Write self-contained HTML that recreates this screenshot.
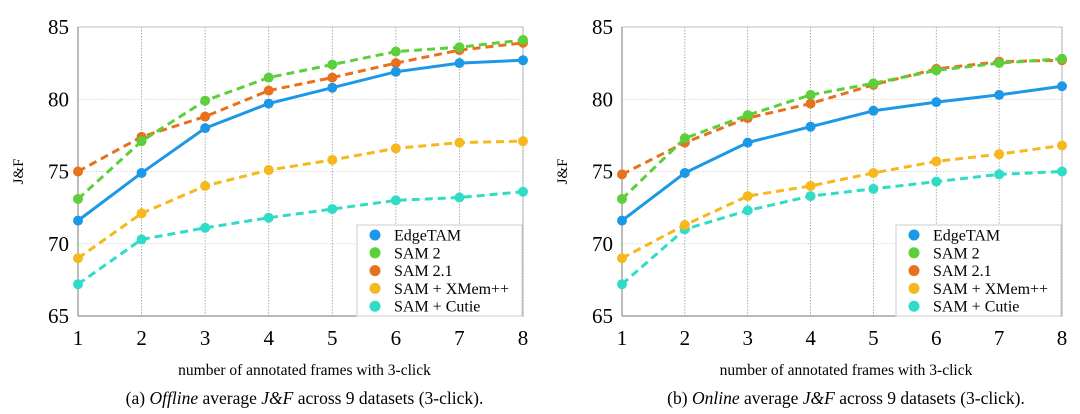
<!DOCTYPE html>
<html><head><meta charset="utf-8"><style>
html,body{margin:0;padding:0;background:#fff;}
svg{display:block;font-family:"Liberation Serif",serif;}
</style></head><body>
<svg id="svg" width="1080" height="414" viewBox="0 0 1080 414"></svg>
<script>
const xCats=[1,2,3,4,5,6,7,8];
const yTicks=[65,70,75,80,85];
const seriesNames=["EdgeTAM","SAM 2","SAM 2.1","SAM + XMem++","SAM + Cutie"];
const seriesColors=["#1d98e6","#5ccf3a","#e8711e","#f6b81c","#30dcc6"];
const offEdge=[71.6,74.9,78.0,79.7,80.8,81.9,82.5,82.7];
const offSam2=[73.1,77.1,79.9,81.5,82.4,83.3,83.6,84.1];
const offSam21=[75.0,77.4,78.8,80.6,81.5,82.5,83.4,83.9];
const offXmem=[69.0,72.1,74.0,75.1,75.8,76.6,77.0,77.1];
const offCutie=[67.2,70.3,71.1,71.8,72.4,73.0,73.2,73.6];
const onEdge=[71.6,74.9,77.0,78.1,79.2,79.8,80.3,80.9];
const onSam2=[73.1,77.3,78.9,80.3,81.1,82.0,82.5,82.8];
const onSam21=[74.8,77.0,78.7,79.7,81.0,82.1,82.6,82.7];
const onXmem=[69.0,71.3,73.3,74.0,74.9,75.7,76.2,76.8];
const onCutie=[67.2,71.0,72.3,73.3,73.8,74.3,74.8,75.0];

const NS="http://www.w3.org/2000/svg";
const svg=document.getElementById('svg');
function mk(tag,attrs,parent,text){const e=document.createElementNS(NS,tag);for(const k in attrs)e.setAttribute(k,attrs[k]);if(text!==undefined)e.textContent=text;(parent||svg).appendChild(e);return e;}

function chart(cfg){
  const g=mk('g',{});
  
  
  const L=cfg.x0,R=cfg.x1,T=27,B=316;
  const sx=v=>L+(v-1)*(R-L)/7;
  const sy=v=>B-(v-65)*(B-T)/20;
  const fr=mk('rect',{x:L,y:T,width:R-L,height:B-T,fill:'none',stroke:'#bbb','stroke-width':1},g);
  
  
  xCats.forEach(c=>{
    const l=mk('line',{x1:sx(c),x2:sx(c),y1:T,y2:B,stroke:'#999','stroke-dasharray':'1.5,1.5','stroke-width':0.8},g);
    
    
    const t=mk('text',{x:sx(c),y:345,'text-anchor':'middle','font-size':21},g,String(c));
    
    
  });
  yTicks.forEach(v=>{
    const l=mk('line',{x1:L,x2:R,y1:sy(v),y2:sy(v),stroke:'#ccc','stroke-dasharray':'1.5,1.5','stroke-width':0.8},g);
    
    
    const t=mk('text',{x:L-9,y:sy(v)+7,'text-anchor':'end','font-size':21},g,String(v));
    
    
  });
  mk('line',{x1:L,x2:L,y1:T,y2:B,stroke:'#777','stroke-width':1},g);
  mk('line',{x1:L,x2:R,y1:B,y2:B,stroke:'#777','stroke-width':1},g);
  const yl=mk('text',{x:0,y:0,transform:`translate(${L-55},${(T+B)/2}) rotate(-90)`,'text-anchor':'middle','font-size':15},g,'J&F');
  
  
  const xl=mk('text',{x:(L+R)/2+4,y:375,'text-anchor':'middle','font-size':15.5},g,'number of annotated frames with 3-click');
  
  
  const cap=mk('text',{x:(L+R)/2+4,y:404,'text-anchor':'middle','font-size':17.5},g);
  
  
  mk('tspan',{},cap,cfg.cap1);
  mk('tspan',{'font-style':'italic'},cap,cfg.cap2);
  mk('tspan',{},cap,' average ');
  mk('tspan',{'font-style':'italic'},cap,'J&F');
  mk('tspan',{},cap,' across 9 datasets (3-click).');
  const order=[4,3,2,1,0];
  order.forEach(i=>{
    const vals=cfg.data[i];
    const pts=vals.map((v,j)=>sx(xCats[j])+','+sy(v)).join(' ');
    const pl=mk('polyline',{points:pts,fill:'none',stroke:seriesColors[i],'stroke-width':3,'stroke-dasharray':i===0?'none':'8,5'},g);
    
    
    vals.forEach((v,j)=>{
      const c=mk('circle',{cx:sx(xCats[j]),cy:sy(v),r:5,fill:seriesColors[i]},g);
      
      
    });
  });
  const lg=mk('g',{},g);
  
  
  mk('rect',{x:R-166,y:225,width:165,height:91,fill:'#fff',stroke:'#ccc','stroke-width':1},lg);
  seriesNames.forEach((n,i)=>{
    const y=235+i*17.8;
    const e=mk('g',{},lg);
    
    
    mk('circle',{cx:R-148,cy:y,r:5.5,fill:seriesColors[i]},e);
    mk('text',{x:R-129,y:y+5.5,'font-size':16},e,n);
  });
}
chart({name:'offline-chart',x0:78,x1:523,cap1:'(a) ',cap2:'Offline',data:[offEdge,offSam2,offSam21,offXmem,offCutie]});
chart({name:'online-chart',x0:622,x1:1062,cap1:'(b) ',cap2:'Online',data:[onEdge,onSam2,onSam21,onXmem,onCutie]});
</script>
</body></html>
